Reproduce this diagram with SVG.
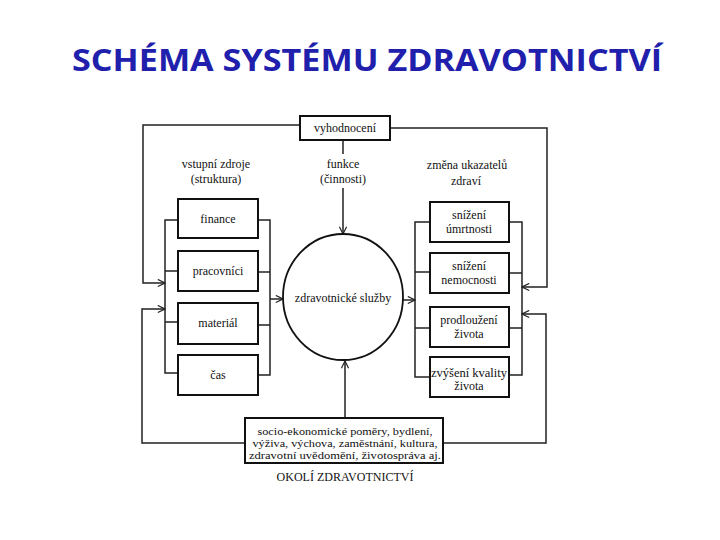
<svg xmlns="http://www.w3.org/2000/svg" width="720" height="540" viewBox="0 0 720 540">
<style>
.box{fill:#fff;stroke:#111;stroke-width:2}
.ln{fill:none;stroke:#222;stroke-width:1.5}
.t{font-family:"Liberation Serif","DejaVu Serif",serif;font-size:12px;fill:#111;text-anchor:middle}
.s{font-size:11px}
.title{font-family:"Open Sans","Liberation Sans",sans-serif;font-weight:bold;font-size:30px;fill:#2020ac;text-anchor:middle}
</style>
<defs>
<marker id="ar" viewBox="0 0 10 10" refX="9" refY="5" markerWidth="9" markerHeight="9" markerUnits="userSpaceOnUse" orient="auto">
<path d="M1,1 L9,5 L1,9" fill="none" stroke="#222" stroke-width="1.3"/>
</marker>
</defs>
<rect width="720" height="540" fill="#fff"/>
<text class="title" x="367" y="71" textLength="590" lengthAdjust="spacingAndGlyphs">SCHÉMA SYSTÉMU ZDRAVOTNICTVÍ</text>

<g id="connectors">
<!-- left brackets -->
<path class="ln" d="M178,220 H165 V373 H178 M165,271 H178 M165,322 H178"/>
<path class="ln" d="M258,220 H270 V375 H258 M258,272 H270 M258,325 H270"/>
<!-- right brackets -->
<path class="ln" d="M430,222 H415 V377 H430 M415,272 H430 M415,328 H430"/>
<path class="ln" d="M509,222 H522 V375 H509 M509,273 H522 M509,328 H522"/>
<!-- to/from circle -->
<path class="ln" d="M270,299 H283" marker-end="url(#ar)"/>
<path class="ln" d="M403,300 H415" marker-end="url(#ar)"/>
<!-- top: vyhodnocení to circle -->
<path class="ln" d="M343,140 V154"/>
<path class="ln" d="M343,188 V234" marker-end="url(#ar)"/>
<!-- bottom: okolí to circle -->
<path class="ln" d="M345,418 V361" marker-end="url(#ar)"/>
<!-- feedback loops -->
<path class="ln" d="M300,125 H143 V283 H165" marker-end="url(#ar)"/>
<path class="ln" d="M390,128 H547 V287 H522" marker-end="url(#ar)"/>
<path class="ln" d="M245,443 H142 V309 H165" marker-end="url(#ar)"/>
<path class="ln" d="M443,443 H546 V314 H522" marker-end="url(#ar)"/>
</g>

<g id="vyhodnoceni">
<rect class="box" x="300" y="116" width="90" height="24"/>
<text class="t" x="345" y="132">vyhodnocení</text>
</g>

<g id="label-vstupni">
<text class="t" x="216" y="168">vstupní zdroje</text>
<text class="t" x="216" y="183">(struktura)</text>
</g>
<g id="label-funkce">
<text class="t" x="343" y="168">funkce</text>
<text class="t" x="343" y="183">(činnosti)</text>
</g>
<g id="label-zmena">
<text class="t" x="467" y="169">změna ukazatelů</text>
<text class="t" x="466" y="185">zdraví</text>
</g>

<g id="finance">
<rect class="box" x="178" y="199" width="80" height="39"/>
<text class="t" x="218" y="223">finance</text>
</g>
<g id="pracovnici">
<rect class="box" x="178" y="251" width="80" height="40"/>
<text class="t" x="218" y="275">pracovníci</text>
</g>
<g id="material">
<rect class="box" x="178" y="303" width="80" height="41"/>
<text class="t" x="218" y="327">materiál</text>
</g>
<g id="cas">
<rect class="box" x="178" y="355" width="80" height="40"/>
<text class="t" x="218" y="379">čas</text>
</g>

<g id="sluzby">
<ellipse cx="343" cy="297" rx="60" ry="63" fill="#fff" stroke="#111" stroke-width="1.8"/>
<text class="t" x="343" y="302">zdravotnické služby</text>
</g>

<g id="umrtnosti">
<rect class="box" x="430" y="202" width="79" height="40"/>
<text class="t" x="469" y="219">snížení</text>
<text class="t" x="469" y="233">úmrtnosti</text>
</g>
<g id="nemocnosti">
<rect class="box" x="430" y="253" width="79" height="40"/>
<text class="t" x="469" y="270">snížení</text>
<text class="t" x="469" y="284">nemocnosti</text>
</g>
<g id="prodlouzeni">
<rect class="box" x="430" y="307" width="79" height="40"/>
<text class="t" x="469" y="324">prodloužení</text>
<text class="t" x="469" y="338">života</text>
</g>
<g id="kvalita">
<rect class="box" x="430" y="357" width="79" height="40"/>
<text class="t" x="469" y="377" textLength="76" lengthAdjust="spacingAndGlyphs">zvýšení kvality</text>
<text class="t" x="469" y="390">života</text>
</g>

<g id="okoli">
<rect class="box" x="245" y="418" width="198" height="45"/>
<text class="t s" x="345" y="435" textLength="175" lengthAdjust="spacingAndGlyphs">socio-ekonomické poměry, bydlení,</text>
<text class="t s" x="345" y="447" textLength="185" lengthAdjust="spacingAndGlyphs">výživa, výchova, zaměstnání, kultura,</text>
<text class="t s" x="345" y="459" textLength="192" lengthAdjust="spacingAndGlyphs">zdravotní uvědomění, životospráva aj.</text>
<text class="t" x="345" y="481">OKOLÍ ZDRAVOTNICTVÍ</text>
</g>
</svg>
